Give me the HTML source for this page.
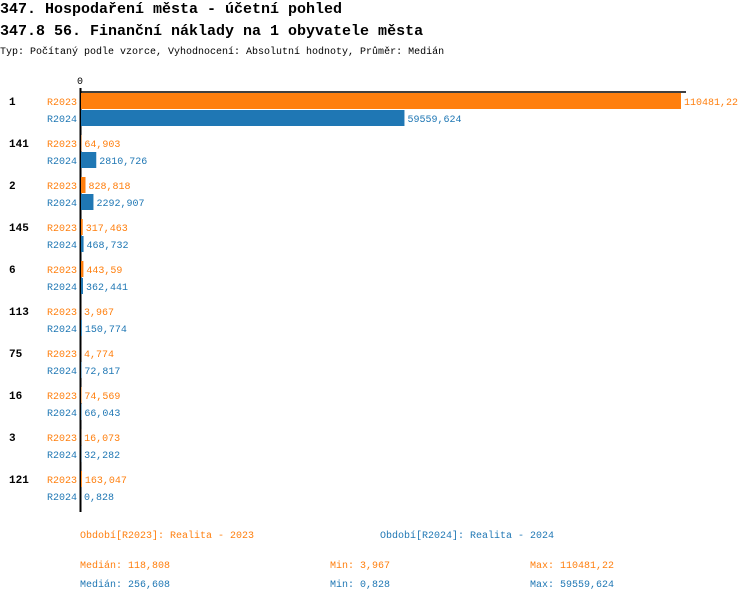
<!DOCTYPE html>
<html><head><meta charset="utf-8"><style>
body{margin:0;background:#fff;width:750px;height:602px;overflow:hidden;font-family:"Liberation Mono",monospace}
svg text{font-family:"Liberation Mono",monospace}
</style></head><body>
<svg id="c" width="750" height="602">
<text x="0" y="13" font-size="15" font-weight="bold">347. Hospodaření města - účetní pohled</text>
<text x="0" y="35" font-size="15" font-weight="bold">347.8 56. Finanční náklady na 1 obyvatele města</text>
<text x="0" y="54" font-size="10">Typ: Počítaný podle vzorce, Vyhodnocení: Absolutní hodnoty, Průměr: Medián</text>
<text x="77" y="84" font-size="10">0</text>
<line x1="80" y1="92" x2="686" y2="92" stroke="#000" stroke-width="1.5"/>
<line x1="80.5" y1="88" x2="80.5" y2="512" stroke="#000" stroke-width="2"/>
<g id="bars"></g>
<g font-size="10">
<text x="80" y="538" fill="#ff7f0e">Období[R2023]: Realita - 2023</text>
<text x="380" y="538" fill="#1f77b4">Období[R2024]: Realita - 2024</text>
<text x="80" y="568" fill="#ff7f0e">Medián: 118,808</text>
<text x="330" y="568" fill="#ff7f0e">Min: 3,967</text>
<text x="530" y="568" fill="#ff7f0e">Max: 110481,22</text>
<text x="80" y="587" fill="#1f77b4">Medián: 256,608</text>
<text x="330" y="587" fill="#1f77b4">Min: 0,828</text>
<text x="530" y="587" fill="#1f77b4">Max: 59559,624</text>
</g>
</svg>
<script>
const categories=["1","141","2","145","6","113","75","16","3","121"];
const r2023=[110481.22,64.903,828.818,317.463,443.59,3.967,4.774,74.569,16.073,163.047];
const r2024=[59559.624,2810.726,2292.907,468.732,362.441,150.774,72.817,66.043,32.282,0.828];
const labels2023=["110481,22","64,903","828,818","317,463","443,59","3,967","4,774","74,569","16,073","163,047"];
const labels2024=["59559,624","2810,726","2292,907","468,732","362,441","150,774","72,817","66,043","32,282","0,828"];
const NS="http://www.w3.org/2000/svg",g=document.getElementById('bars');
const x0=81,xMax=Math.max(...r2023,...r2024),sx=v=>v/xMax*600;
const yTop=i=>93+i*42;
function mk(t,a,txt){const e=document.createElementNS(NS,t);for(const k in a)e.setAttribute(k,a[k]);if(txt!==undefined)e.textContent=txt;g.appendChild(e);return e;}
categories.forEach((c,i)=>{
 const y=yTop(i);
 const cl=mk('text',{x:9,y:y+12,'font-size':11,'font-weight':'bold'},c);
 
 
 [[r2023,labels2023,'#ff7f0e','R2023',0],[r2024,labels2024,'#1f77b4','R2024',17]].forEach(([arr,lb,col,nm,off])=>{
  const w=sx(arr[i]);
  const r=mk('rect',{x:x0,y:y+off,width:w,height:16,fill:col});
  
  
  const s=mk('text',{x:47,y:y+off+12,'font-size':10,fill:col},nm);
  
  
  const v=mk('text',{x:x0+w+3,y:y+off+12,'font-size':10,fill:col},lb[i]);
  
  
 });
});
</script>
</body></html>
